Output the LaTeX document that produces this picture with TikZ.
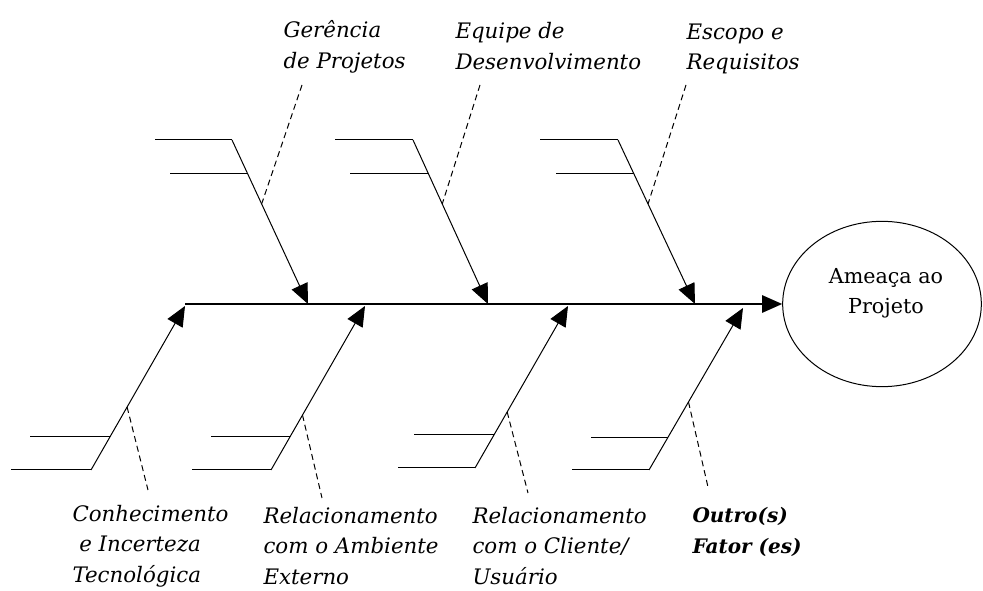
\documentclass[tikz,border=0pt]{standalone}
\usepackage{fontspec}
\setmainfont{DejaVu Serif}
\usetikzlibrary{arrows.meta,calc,shapes.geometric}

\tikzset{every picture/.style={line width=0.75pt}}
\tikzset{
  spine/.style={line width=1.2pt},
  causearrow/.style={-{Triangle[length=15pt,width=13pt]}},
  leader/.style={dash pattern={on 4.5pt off 3pt}},
  causetext/.style={align=left, anchor=west, inner sep=0pt, font=\fontsize{16}{23}\selectfont\itshape},
}

\begin{document}
\begin{tikzpicture}[x=0.75pt,y=0.75pt,yscale=-1,xscale=1]
\useasboundingbox (0,0) rectangle (983,591);

%Shape: Ellipse [threat]
\node [draw, ellipse, minimum width=149pt, minimum height=124pt, inner sep=0pt] (threat) at (882,304) {};
% Text Node
\node [font=\fontsize{15.5}{22.5}\selectfont, align=center, inner sep=0pt] (threatlabel) at (886,293) {Ameaça ao\\Projeto};

%Straight Lines [spine]
\coordinate (tail) at (185,304);
\draw [spine, causearrow] (tail) -- (threat.west);

%Top bone: Gerencia
\coordinate (u1) at (232,140);
\coordinate (t1) at (308,304);
\coordinate (d1) at (302,85);
\draw [causearrow] (u1) -- (t1);
\draw (u1) -- ++(-77,0);
\draw ($(u1)!0.206!(t1)$) -- ++(-78,0);
\draw [leader] (d1) -- ($(u1)!0.39!(t1)$);

%Top bone: Equipe
\coordinate (u2) at (413,140);
\coordinate (t2) at (488,304);
\coordinate (d2) at (480,85);
\draw [causearrow] (u2) -- (t2);
\draw (u2) -- ++(-78,0);
\draw ($(u2)!0.206!(t2)$) -- ++(-78,0);
\draw [leader] (d2) -- ($(u2)!0.39!(t2)$);

%Top bone: Escopo
\coordinate (u3) at (618,140);
\coordinate (t3) at (695,304);
\coordinate (d3) at (686,85);
\draw [causearrow] (u3) -- (t3);
\draw (u3) -- ++(-78,0);
\draw ($(u3)!0.206!(t3)$) -- ++(-78,0);
\draw [leader] (d3) -- ($(u3)!0.39!(t3)$);

%Bottom bone: Conhecimento
\coordinate (l1) at (91,470);
\coordinate (h1) at (185,306);
\coordinate (e1) at (148,490);
\draw [causearrow] (l1) -- (h1);
\draw (l1) -- ++(-80,0);
\draw ($(l1)!0.207!(h1)$) -- ++(-80,0);
\draw [leader] ($(l1)!0.384!(h1)$) -- (e1);

%Bottom bone: Ambiente
\coordinate (l2) at (271,470);
\coordinate (h2) at (365,306);
\coordinate (e2) at (322,498);
\draw [causearrow] (l2) -- (h2);
\draw (l2) -- ++(-79,0);
\draw ($(l2)!0.207!(h2)$) -- ++(-79,0);
\draw [leader] ($(l2)!0.335!(h2)$) -- (e2);

%Bottom bone: Cliente
\coordinate (l3) at (475,468);
\coordinate (h3) at (568,306);
\coordinate (e3) at (528,493);
\draw [causearrow] (l3) -- (h3);
\draw (l3) -- ++(-77,0);
\draw ($(l3)!0.204!(h3)$) -- ++(-80,0);
\draw [leader] ($(l3)!0.346!(h3)$) -- (e3);

%Bottom bone: Outros
\coordinate (l4) at (649,470);
\coordinate (h4) at (743,308);
\coordinate (e4) at (708,487);
\draw [causearrow] (l4) -- (h4);
\draw (l4) -- ++(-77,0);
\draw ($(l4)!0.198!(h4)$) -- ++(-77,0);
\draw [leader] ($(l4)!0.42!(h4)$) -- (e4);

% Text Node
\node [causetext] (gerencia) at (283,47) {Gerência\\de Projetos};
% Text Node
\node [causetext] (equipe) at (455,46) {Equipe de\\Desenvolvimento};
% Text Node
\node [causetext] (escopo) at (686,49) {Escopo e\\Requisitos};
% Text Node
\node [causetext] (conhecimento) at (72,546) {Conhecimento\\\ e Incerteza\\Tecnológica};
% Text Node
\node [causetext] (ambiente) at (263,546) {Relacionamento\\com o Ambiente\\Externo};
% Text Node
\node [causetext] (cliente) at (472,546) {Relacionamento\\com o Cliente/\\Usuário};
% Text Node
\node [causetext, font=\fontsize{15}{23}\selectfont\bfseries\itshape] (outros) at (692,532) {Outro(s)\\Fator (es)};

\end{tikzpicture}
\end{document}
